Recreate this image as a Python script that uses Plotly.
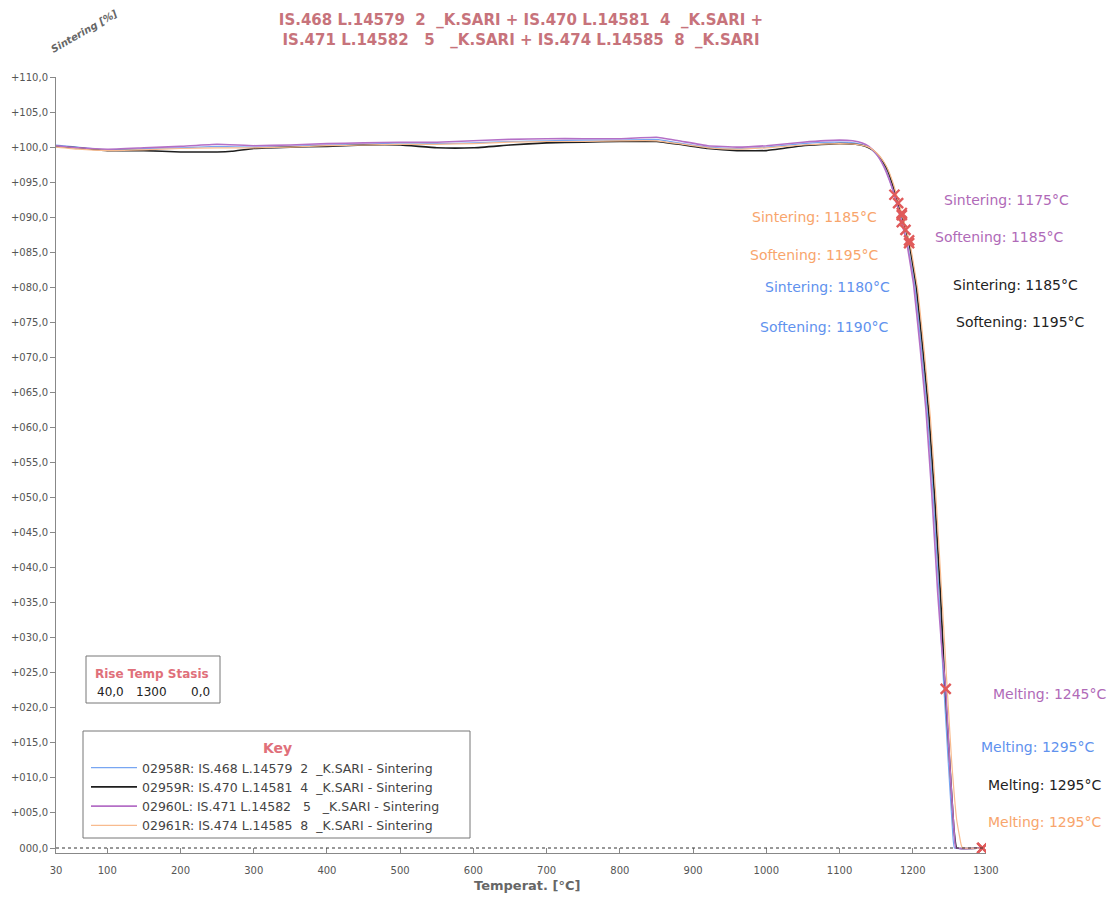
import plotly.graph_objects as go

# ---------------- data ----------------
series_names = [
    "02958R: IS.468 L.14579  2  _K.SARI - Sintering",
    "02959R: IS.470 L.14581  4  _K.SARI - Sintering",
    "02960L: IS.471 L.14582   5   _K.SARI - Sintering",
    "02961R: IS.474 L.14585  8  _K.SARI - Sintering",
]

blue_T = [30, 60, 100, 150, 200, 250, 300, 350, 400, 450, 500, 550, 600, 650, 700, 750, 800, 850, 880, 920, 960, 1000, 1050, 1100, 1120, 1133, 1142, 1150, 1157, 1163, 1170, 1177, 1185, 1193, 1203, 1212, 1220, 1228, 1236, 1241, 1248, 1254, 1257, 1295]
blue_v = [100.3, 100.0, 99.6, 99.8, 99.9, 100.1, 100.0, 100.1, 100.3, 100.4, 100.6, 100.5, 100.6, 100.8, 100.9, 101.0, 101.0, 101.1, 100.6, 100.0, 99.8, 100.0, 100.5, 100.7, 100.6, 100.3, 99.8, 99.0, 98.0, 96.8, 94.8, 92.3, 89.2, 86.0, 80.0, 71.0, 62.0, 50.0, 36.0, 25.5, 13.0, 3.0, 0.0, 0.0]

black_T = [30, 60, 100, 150, 200, 250, 270, 300, 350, 400, 450, 500, 550, 600, 650, 700, 750, 800, 850, 880, 920, 960, 1000, 1050, 1100, 1122, 1136, 1145, 1153, 1160, 1166, 1172, 1179, 1187, 1195, 1205, 1214, 1222, 1230, 1238, 1243, 1250, 1256, 1260, 1295]
black_v = [100.1, 99.9, 99.5, 99.5, 99.3, 99.3, 99.4, 99.8, 100.0, 100.1, 100.3, 100.3, 99.9, 99.9, 100.3, 100.6, 100.7, 100.8, 100.8, 100.4, 99.8, 99.5, 99.5, 100.2, 100.5, 100.4, 100.1, 99.6, 98.8, 97.8, 96.6, 94.8, 92.3, 89.5, 86.3, 80.0, 71.0, 62.0, 50.0, 36.0, 25.0, 13.0, 3.0, 0.0, 0.0]

purple_T = [30, 60, 100, 150, 200, 250, 300, 350, 400, 450, 500, 550, 600, 650, 700, 750, 800, 850, 880, 920, 960, 1000, 1050, 1100, 1118, 1131, 1140, 1148, 1155, 1161, 1168, 1175, 1183, 1191, 1201, 1210, 1218, 1226, 1234, 1240, 1245, 1251, 1256, 1259, 1295]
purple_v = [100.2, 99.9, 99.7, 99.9, 100.1, 100.4, 100.2, 100.3, 100.5, 100.6, 100.7, 100.7, 100.9, 101.1, 101.2, 101.2, 101.2, 101.4, 100.9, 100.2, 100.0, 100.2, 100.7, 101.0, 100.9, 100.6, 100.1, 99.3, 98.3, 97.1, 95.3, 93.2, 90.0, 86.8, 80.5, 71.5, 62.5, 50.5, 36.5, 28.0, 22.7, 11.0, 3.0, 0.0, 0.0]

orange_T = [30, 60, 100, 150, 200, 250, 300, 350, 400, 450, 500, 550, 600, 650, 700, 750, 800, 850, 880, 920, 960, 1000, 1050, 1100, 1123, 1137, 1146, 1154, 1161, 1167, 1174, 1181, 1189, 1197, 1207, 1216, 1224, 1232, 1240, 1246, 1253, 1260, 1266, 1268, 1295]
orange_v = [100.0, 99.7, 99.5, 99.6, 99.8, 99.9, 99.9, 100.0, 100.2, 100.3, 100.4, 100.4, 100.5, 100.7, 100.8, 100.8, 100.9, 100.9, 100.5, 99.9, 99.7, 99.9, 100.3, 100.5, 100.4, 100.1, 99.6, 98.8, 97.8, 96.6, 94.6, 92.0, 89.0, 85.8, 79.5, 70.5, 61.5, 49.5, 35.5, 24.5, 12.5, 4.0, 0.5, 0.0, 0.0]

series_T = [blue_T, black_T, purple_T, orange_T]
series_v = [blue_v, black_v, purple_v, orange_v]
series_colors = ["#78a6f2", "#1e1e1e", "#b46fc6", "#f8bb8e"]
series_widths = [1.2, 1.6, 1.6, 1.2]

# characteristic events per series: (sintering, softening, melting)
event_names = ["Sintering", "Softening", "Melting"]
blue_ev_T = [1180, 1190, 1295]
blue_ev_v = [92.0, 88.2, 0.0]
black_ev_T = [1185, 1195, 1295]
black_ev_v = [90.3, 86.3, 0.0]
purple_ev_T = [1175, 1185, 1245]
purple_ev_v = [93.2, 89.3, 22.7]
orange_ev_T = [1185, 1195, 1295]
orange_ev_v = [90.6, 86.7, 0.0]
events_T = [blue_ev_T, black_ev_T, purple_ev_T, orange_ev_T]
events_v = [blue_ev_v, black_ev_v, purple_ev_v, orange_ev_v]
label_colors = ["#5f92ee", "#222222", "#b06ab8", "#f8a56c"]

x_ticks = [30, 100, 200, 300, 400, 500, 600, 700, 800, 900, 1000, 1100, 1200, 1300]
y_ticks = list(range(0, 111, 5))

rise_header = "Rise Temp Stasis"
rise_values = ["40,0", "1300", "0,0"]

title_lines = [
    "IS.468 L.14579  2  _K.SARI + IS.470 L.14581  4  _K.SARI +",
    "IS.471 L.14582   5   _K.SARI + IS.474 L.14585  8  _K.SARI",
]

# ---------------- layout helpers ----------------
OFF = 8                      # browser body margin
W, H = 1117 - OFF, 899 - OFF
PL, PR, PT, PB = 56, 986, 77, 853   # plot area in page pixels
L, T = PL - OFF, PT - OFF
R, B = W - (PR - OFF), H - (PB - OFF)
PW, PH = PR - PL, PB - PT


def px(x):
    return (x - PL) / PW


def py(y):
    return (PB - y) / PH


def nb(s):
    return s.replace(" ", "\u00a0")


FONT = "DejaVu Sans"
fig = go.Figure()

for name, xs, ys, c, w in zip(series_names, series_T, series_v, series_colors, series_widths):
    fig.add_trace(go.Scatter(x=xs, y=ys, mode="lines", name=nb(name),
                             line=dict(color=c, width=w, shape="spline", smoothing=0.3)))

for xs, ys in zip(events_T, events_v):
    fig.add_trace(go.Scatter(x=xs, y=ys, mode="markers", showlegend=False,
                             marker=dict(symbol="x-thin", size=10, color="#e05a5a",
                                         line=dict(width=2.4, color="#e05a5a"))))

ytext = []
for v in y_ticks:
    s = f"{v:05.1f}".replace(".", ",")
    ytext.append(s if v == 0 else "+" + s)

fig.update_layout(
    width=W, height=H,
    margin=dict(l=L, r=R, t=T, b=B, autoexpand=False),
    paper_bgcolor="white", plot_bgcolor="white",
    font=dict(family=FONT, color="#555555", size=10),
    title=dict(text="<br>".join(nb(t) for t in title_lines), xref="paper", x=px(521), xanchor="center",
               y=1 - (25 - OFF) / H, yanchor="middle",
               font=dict(family=FONT, size=15, color="#c7737b", weight="bold")),
    xaxis=dict(range=[30, 1300], tickvals=x_ticks, ticktext=[str(t) for t in x_ticks],
               showgrid=False, zeroline=False, showline=True, linecolor="#888888", linewidth=1,
               ticks="inside", ticklen=5, tickcolor="#888888", automargin=False,
               ticklabelstandoff=8,
               tickfont=dict(size=10, color="#555555")),
    yaxis=dict(range=[-0.713, 110], tickvals=y_ticks, ticktext=ytext,
               showgrid=False, zeroline=False, showline=True, linecolor="#888888", linewidth=1,
               ticks="outside", ticklen=5, tickcolor="#888888", automargin=False,
               tickfont=dict(size=10, color="#555555")),
    legend=dict(x=px(86), y=py(753), xanchor="left", yanchor="top",
                bgcolor="rgba(0,0,0,0)", borderwidth=0, tracegroupgap=0, itemwidth=46,
                font=dict(family=FONT, size=12.5, color="#444444")),
    showlegend=True,
)

# zero baseline (dashed)
fig.add_shape(type="line", xref="x", yref="y", x0=30, x1=1300, y0=0, y1=0,
              line=dict(color="#333333", width=1, dash="dot"))


def ann(text, x, y, size, color, angle=0):
    fig.add_annotation(text=text, xref="paper", yref="paper", x=px(x), y=py(y),
                       showarrow=False, xanchor="center", yanchor="middle", textangle=angle,
                       font=dict(family=FONT, size=size, color=color))


# axis titles
ann("<b><i>Sintering [%]</i></b>", 84, 32, 10, "#666666", angle=-30)
ann("<b>Temperat. [°C]</b>", 527, 885, 13, "#666666")

# event labels
label_pos = {
    0: [(827, 287), (824, 327), (1038, 747)],
    1: [(1015, 285), (1020, 322), (1045, 785)],
    2: [(1007, 200), (999, 237), (1050, 694)],
    3: [(814, 217), (814, 255), (1045, 822)],
}
for i in range(4):
    for k in range(3):
        xx, yy = label_pos[i][k]
        ann(f"{event_names[k]}: {events_T[i][k]}°C", xx, yy, 14, label_colors[i])

# Rise Temp Stasis box
fig.add_shape(type="rect", xref="paper", yref="paper", x0=px(86), x1=px(220), y0=py(703), y1=py(656),
              line=dict(color="#777777", width=1), fillcolor="white", layer="below")
ann(f"<b>{rise_header}</b>", 152, 674, 12, "#e0707a")
for val, xx in zip(rise_values, [110, 151, 200]):
    ann(val, xx, 692, 12, "#222222")

# Key box
fig.add_shape(type="rect", xref="paper", yref="paper", x0=px(83), x1=px(470), y0=py(838), y1=py(731),
              line=dict(color="#777777", width=1), fillcolor="white", layer="below")
ann("<b>Key</b>", 277, 748, 14, "#e0707a")

fig.write_html("out.html")
